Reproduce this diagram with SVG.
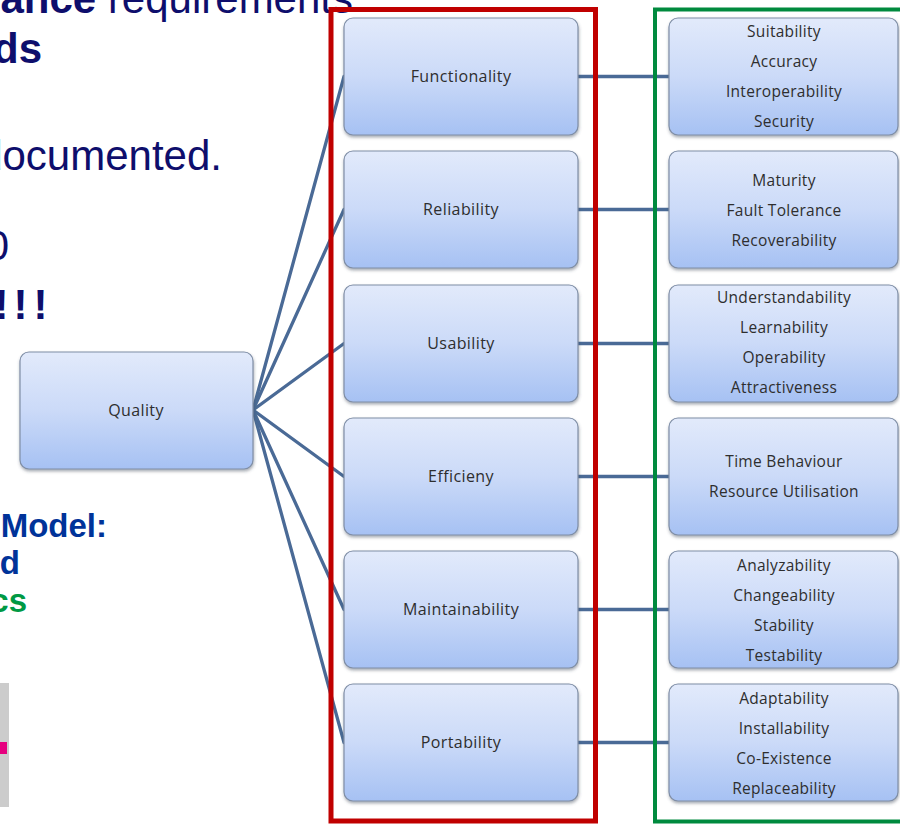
<svg xmlns="http://www.w3.org/2000/svg" width="900" height="826" viewBox="0 0 900 826">
  <defs>
    <linearGradient id="boxFill" x1="0" y1="0" x2="0" y2="1">
      <stop offset="0" stop-color="#e2eafb"/>
      <stop offset="0.5" stop-color="#cbdaf8"/>
      <stop offset="1" stop-color="#a6c1f3"/>
    </linearGradient>
    <filter id="shadow" x="-10%" y="-10%" width="120%" height="130%">
      <feDropShadow dx="0.5" dy="2" stdDeviation="1.5" flood-color="#404a5a" flood-opacity="0.45"/>
    </filter>
  </defs>
  <style>
    .slide { font-family: "Liberation Sans", Arial, sans-serif; font-size: 42px; fill: #0e0e6c; }
    .bold { font-weight: bold; }
    .blue { fill: #003399; font-weight: bold; font-size: 33px; }
    .green { fill: #009944; font-weight: bold; font-size: 33px; }
    .box { fill: url(#boxFill); stroke: #7f8ea6; stroke-width: 1.2; filter: url(#shadow); }
    .label { font-family: "Open Sans", "DejaVu Sans", sans-serif; font-size: 16px; fill: #2e2e2e; text-anchor: middle; letter-spacing: 0.4px; }
    .sub { font-family: "Open Sans", "DejaVu Sans", sans-serif; font-size: 15.5px; fill: #2e2e2e; text-anchor: middle; letter-spacing: 0.3px; }
    .link { stroke: #4a6a96; stroke-width: 3.3; fill: none; stroke-linecap: round; }
    .frame { fill: none; }
  </style>

  <rect x="0" y="0" width="900" height="826" fill="#ffffff"/>

  <!-- slide text partly hidden behind the chart -->
  <g id="slide-text">
    <text class="slide" x="353" y="13" text-anchor="end"><tspan class="bold">ance</tspan> requirements</text>
    <text class="slide bold" x="42" y="63" text-anchor="end">ds</text>
    <text class="slide" x="222" y="170" text-anchor="end">documented.</text>
    <text class="slide" x="9" y="260" text-anchor="end" font-size="40">0</text>
    <text class="slide bold" x="-5.5 13.5 33.5" y="319" font-size="54">!!!</text>
    <text class="slide blue" x="107" y="537" text-anchor="end">Model:</text>
    <text class="slide blue" x="20" y="574" text-anchor="end">d</text>
    <text class="slide green" x="27" y="612" text-anchor="end">cs</text>
    <rect x="0" y="683" width="9" height="124" fill="#cccccc"/>
    <rect x="0" y="742" width="7" height="12" fill="#e6007e"/>
  </g>

  <!-- connectors -->
  <g id="connectors">
    <line class="link" x1="253" y1="410" x2="344" y2="76.5"/>
    <line class="link" x1="253" y1="410" x2="344" y2="209.5"/>
    <line class="link" x1="253" y1="410" x2="344" y2="343.5"/>
    <line class="link" x1="253" y1="410" x2="344" y2="476.5"/>
    <line class="link" x1="253" y1="410" x2="344" y2="609.5"/>
    <line class="link" x1="253" y1="410" x2="344" y2="742.5"/>
    <line class="link" x1="578" y1="76.5" x2="669" y2="76.5"/>
    <line class="link" x1="578" y1="209.5" x2="669" y2="209.5"/>
    <line class="link" x1="578" y1="343.5" x2="669" y2="343.5"/>
    <line class="link" x1="578" y1="476.5" x2="669" y2="476.5"/>
    <line class="link" x1="578" y1="609.5" x2="669" y2="609.5"/>
    <line class="link" x1="578" y1="742.5" x2="669" y2="742.5"/>
  </g>

  <!-- root -->
  <g id="quality">
    <rect class="box" x="20" y="352" width="233" height="117" rx="9"/>
    <text class="label" x="136" y="416">Quality</text>
  </g>

  <!-- characteristics -->
  <g id="functionality">
    <rect class="box" x="344" y="18" width="234" height="117" rx="9"/>
    <text class="label" x="461" y="82">Functionality</text>
  </g>
  <g id="reliability">
    <rect class="box" x="344" y="151" width="234" height="117" rx="9"/>
    <text class="label" x="461" y="215">Reliability</text>
  </g>
  <g id="usability">
    <rect class="box" x="344" y="285" width="234" height="117" rx="9"/>
    <text class="label" x="461" y="349">Usability</text>
  </g>
  <g id="efficiency">
    <rect class="box" x="344" y="418" width="234" height="117" rx="9"/>
    <text class="label" x="461" y="482">Efficieny</text>
  </g>
  <g id="maintainability">
    <rect class="box" x="344" y="551" width="234" height="117" rx="9"/>
    <text class="label" x="461" y="615">Maintainability</text>
  </g>
  <g id="portability">
    <rect class="box" x="344" y="684" width="234" height="117" rx="9"/>
    <text class="label" x="461" y="748">Portability</text>
  </g>

  <!-- sub-characteristics -->
  <g id="functionality-sub">
    <rect class="box" x="669" y="18" width="229" height="117" rx="9"/>
    <text class="sub" x="784" y="37">Suitability</text>
    <text class="sub" x="784" y="67">Accuracy</text>
    <text class="sub" x="784" y="97">Interoperability</text>
    <text class="sub" x="784" y="127">Security</text>
  </g>
  <g id="reliability-sub">
    <rect class="box" x="669" y="151" width="229" height="117" rx="9"/>
    <text class="sub" x="784" y="186">Maturity</text>
    <text class="sub" x="784" y="216">Fault Tolerance</text>
    <text class="sub" x="784" y="246">Recoverability</text>
  </g>
  <g id="usability-sub">
    <rect class="box" x="669" y="285" width="229" height="117" rx="9"/>
    <text class="sub" x="784" y="303">Understandability</text>
    <text class="sub" x="784" y="333">Learnability</text>
    <text class="sub" x="784" y="363">Operability</text>
    <text class="sub" x="784" y="393">Attractiveness</text>
  </g>
  <g id="efficiency-sub">
    <rect class="box" x="669" y="418" width="229" height="117" rx="9"/>
    <text class="sub" x="784" y="467">Time Behaviour</text>
    <text class="sub" x="784" y="497">Resource Utilisation</text>
  </g>
  <g id="maintainability-sub">
    <rect class="box" x="669" y="551" width="229" height="117" rx="9"/>
    <text class="sub" x="784" y="571">Analyzability</text>
    <text class="sub" x="784" y="601">Changeability</text>
    <text class="sub" x="784" y="631">Stability</text>
    <text class="sub" x="784" y="661">Testability</text>
  </g>
  <g id="portability-sub">
    <rect class="box" x="669" y="684" width="229" height="117" rx="9"/>
    <text class="sub" x="784" y="704">Adaptability</text>
    <text class="sub" x="784" y="734">Installability</text>
    <text class="sub" x="784" y="764">Co-Existence</text>
    <text class="sub" x="784" y="794">Replaceability</text>
  </g>

  <!-- highlight frames -->
  <g id="frames">
    <rect class="frame" x="331" y="9.5" width="264.5" height="811.5" stroke="#c00000" stroke-width="5"/>
    <rect class="frame" x="655" y="9.5" width="260" height="812" stroke="#008a3e" stroke-width="4"/>
  </g>
</svg>
